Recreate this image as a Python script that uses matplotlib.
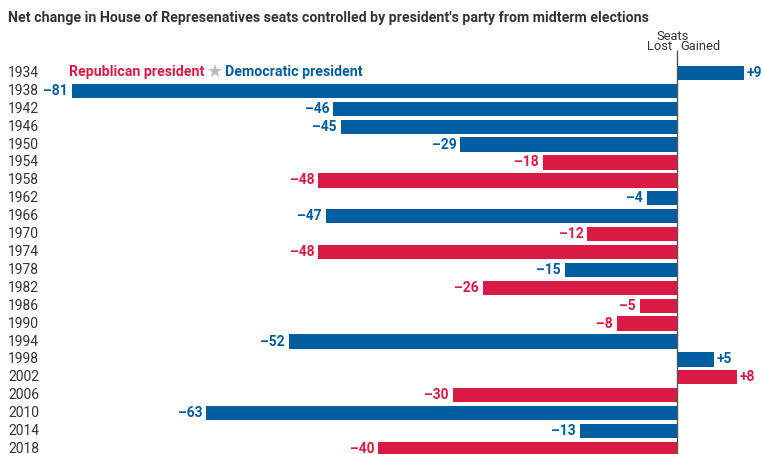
import matplotlib
matplotlib.use("Agg")
import matplotlib.pyplot as plt
from matplotlib.transforms import blended_transform_factory

plt.rcParams['font.family'] = ['Roboto', 'DejaVu Sans']

years = [1934, 1938, 1942, 1946, 1950, 1954, 1958, 1962, 1966, 1970, 1974,
         1978, 1982, 1986, 1990, 1994, 1998, 2002, 2006, 2010, 2014, 2018]
changes = [9, -81, -46, -45, -29, -18, -48, -4, -47, -12, -48,
           -15, -26, -5, -8, -52, 5, 8, -30, -63, -13, -40]
party = ['D', 'D', 'D', 'D', 'D', 'R', 'R', 'D', 'D', 'R', 'R',
         'D', 'R', 'R', 'R', 'D', 'D', 'R', 'R', 'D', 'D', 'R']

RED = '#D91A45'
BLUE = '#005EA0'
colors = [RED if p == 'R' else BLUE for p in party]

W, H = 762, 454
fig = plt.figure(figsize=(W / 100, H / 100), dpi=100)
ax = fig.add_axes([0, 0, 1, 1])

zero_px = 677.0
px_per = (677.0 - 72.0) / 81.0
ax.set_xlim(-zero_px / px_per, (W - zero_px) / px_per)
row0 = 73.0
row_h = 17.9
ax.set_ylim((H - row0) / row_h, -row0 / row_h)
ax.axis('off')

idx = list(range(len(years)))
ax.barh(idx, changes, height=0.8, color=colors, zorder=2)
ax.vlines(0, -1.3, len(years) + 1, color='#555555', lw=1.0, zorder=3)

off = 4 / px_per
for i, (v, c) in enumerate(zip(changes, colors)):
    if v < 0:
        ax.text(v - off, i, f"\u2013{abs(v)}", ha='right', va='center', color=c,
                fontsize=10, fontweight='bold')
    else:
        ax.text(v + off * 0.6, i, f"+{v}", ha='left', va='center', color=c,
                fontsize=10, fontweight='bold')

tr = blended_transform_factory(fig.transFigure, ax.transData)
for i, y in enumerate(years):
    ax.text(8 / W, i, str(y), transform=tr, ha='left', va='center',
            color='#333333', fontsize=10)

# legend row
ax.text(69 / W, -0.05, 'Republican president', transform=tr, ha='left',
        va='center', color=RED, fontsize=10.2, fontweight='bold')
ax.text(215 / W, -0.05, '\u2605', transform=tr, ha='center', va='center',
        color='#BBBBBB', fontsize=13, family='DejaVu Sans')
ax.text(225 / W, -0.05, 'Democratic president', transform=tr, ha='left',
        va='center', color=BLUE, fontsize=10.2, fontweight='bold')

# Seats header
ax.text(673 / W, 1 - 36 / H, 'Seats', transform=fig.transFigure,
        ha='center', va='center', color='#333333', fontsize=9.3)
ax.text(672 / W, 1 - 47 / H, 'Lost', transform=fig.transFigure,
        ha='right', va='center', color='#333333', fontsize=9.3)
ax.text(680 / W, 1 - 47 / H, 'Gained', transform=fig.transFigure,
        ha='left', va='center', color='#333333', fontsize=9.3)

fig.text(8 / W, 1 - 18 / H,
         "Net change in House of Represenatives seats controlled by president's party from midterm elections",
         ha='left', va='center', color='#333333', fontsize=10.2, fontweight='bold')

fig.savefig('out.png', dpi=100)
